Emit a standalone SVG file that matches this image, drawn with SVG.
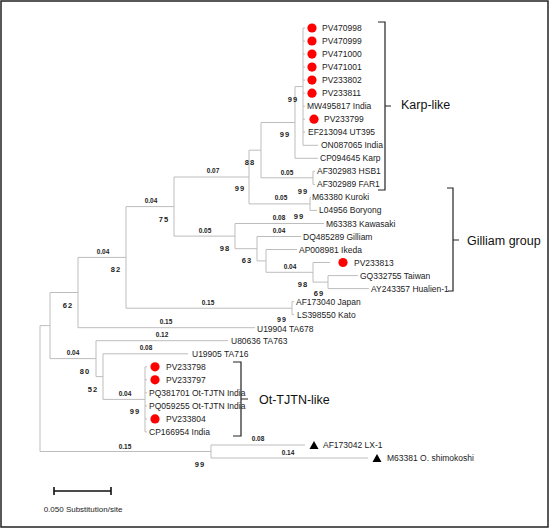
<svg xmlns="http://www.w3.org/2000/svg" width="550" height="529" viewBox="0 0 550 529">
<style>
.br{stroke:#bdbdbd;stroke-width:1;fill:none}
.bk{stroke:#222;stroke-width:1.2;fill:none}
text{font-family:"Liberation Sans",Arial,sans-serif;dominant-baseline:central}
.lf{font-size:8.5px;fill:#222}
.bl{font-size:6.5px;font-weight:bold;fill:#222;text-anchor:middle}
.bs{font-size:7.5px;font-weight:bold;fill:#222;text-anchor:middle;letter-spacing:1px}
.grp{font-size:12.5px;fill:#111}
.dot{fill:#ff0000}
.tri{fill:#000}
</style>
<rect x="1" y="1" width="547" height="526" fill="#fff" stroke="#222" stroke-width="1.5"/>
<g id="connectors" class="br">
<path d="M40,325.6V451.5M40,325.6H50M40,451.5H211M211,445V458M211,445H305M211,458H368"/>
<path d="M50,292.5V358.6M50,292.5H78M50,358.6H96M78,257.4V327.7M78,327.7H255M78,257.4H126"/>
<path d="M126,206.6V308.2M126,308.2H292M292,301.6V314.7M292,301.6H294M292,314.7H294M126,206.6H174"/>
<path d="M174,177V236.1M174,177H249M174,236.1H235M249,150.2V203.9M249,150.2H261M249,203.9H310M310,197.4V210.4M310,197.4H311M310,210.4H317"/>
<path d="M261,122.5V177.8M261,122.5H295M261,177.8H313M313,171.3V184.4M313,171.3H315M313,184.4H315"/>
<path d="M295,86.6V158.3M295,86.6H303M295,158.3H318M303,28V145.3M303,145.3H318"/>
<path d="M303,28H305M303,41H305M303,54.1H305M303,67.1H305M303,80.1H305M303,93.2H305M303,106.2H305M303,119.2H305M303,132.2H305"/>
<path d="M235,223.5V248.7M235,223.5H324M235,248.7H257M257,236.5V260.9M257,236.5H301M257,260.9H266M266,249.5V272.3M266,249.5H297M266,272.3H313"/>
<path d="M313,262.5V282.1M313,262.5H330M313,282.1H328M328,275.6V288.6M328,275.6H358M328,288.6H369"/>
<path d="M96,340.7V376.6M96,340.7H228M96,376.6H103M103,353.8V399.4M103,353.8H188M103,399.4H145M145,366.8V431.9"/>
<path d="M145,366.8H147M145,379.8H147M145,392.8H147M145,405.9H147M145,418.9H147M145,431.9H147"/>
</g>
<g id="brackets" class="bk">
<path d="M378,22H385V190H378M385,106H391"/>
<path d="M447,188H453V291H448M453,240H459"/>
<path d="M233,362H241V436H233M241,399H248"/>
</g>
<g id="group-labels">
<text class="grp" x="401" y="105">Karp-like</text>
<text class="grp" x="467" y="241">Gilliam group</text>
<text class="grp" x="259" y="400">Ot-TJTN-like</text>
</g>
<g id="leaves">
<g id="PV470998"><circle class="dot" cx="312" cy="28" r="4.6"/><text class="lf" x="322" y="28">PV470998</text></g>
<g id="PV470999"><circle class="dot" cx="312" cy="41" r="4.6"/><text class="lf" x="322" y="41">PV470999</text></g>
<g id="PV471000"><circle class="dot" cx="312" cy="54.1" r="4.6"/><text class="lf" x="322" y="54.1">PV471000</text></g>
<g id="PV471001"><circle class="dot" cx="312" cy="67.1" r="4.6"/><text class="lf" x="322" y="67.1">PV471001</text></g>
<g id="PV233802"><circle class="dot" cx="312" cy="80.1" r="4.6"/><text class="lf" x="322" y="80.1">PV233802</text></g>
<g id="PV233811"><circle class="dot" cx="312" cy="93.2" r="4.6"/><text class="lf" x="322" y="93.2">PV233811</text></g>
<g id="MW495817"><text class="lf" x="307" y="106.2">MW495817 India</text></g>
<g id="PV233799"><circle class="dot" cx="314" cy="119.2" r="4.6"/><text class="lf" x="324" y="119.2">PV233799</text></g>
<g id="EF213094"><text class="lf" x="308" y="132.2">EF213094 UT395</text></g>
<g id="ON087065"><text class="lf" x="321" y="145.3">ON087065 India</text></g>
<g id="CP094645"><text class="lf" x="320" y="158.3">CP094645 Karp</text></g>
<g id="AF302983"><text class="lf" x="317" y="171.3">AF302983 HSB1</text></g>
<g id="AF302989"><text class="lf" x="317" y="184.4">AF302989 FAR1</text></g>
<g id="M63380"><text class="lf" x="312" y="197.4">M63380 Kuroki</text></g>
<g id="L04956"><text class="lf" x="319" y="210.4">L04956 Boryong</text></g>
<g id="M63383"><text class="lf" x="326" y="223.5">M63383 Kawasaki</text></g>
<g id="DQ485289"><text class="lf" x="303" y="236.5">DQ485289 Gilliam</text></g>
<g id="AP008981"><text class="lf" x="299" y="249.5">AP008981 Ikeda</text></g>
<g id="PV233813"><circle class="dot" cx="343" cy="262.5" r="4.6"/><text class="lf" x="354" y="262.5">PV233813</text></g>
<g id="GQ332755"><text class="lf" x="360" y="275.6">GQ332755 Taiwan</text></g>
<g id="AY243357"><text class="lf" x="371" y="288.6">AY243357 Hualien-1</text></g>
<g id="AF173040"><text class="lf" x="296" y="301.6">AF173040 Japan</text></g>
<g id="LS398550"><text class="lf" x="297" y="314.7">LS398550 Kato</text></g>
<g id="U19904"><text class="lf" x="257" y="328.5">U19904 TA678</text></g>
<g id="U80636"><text class="lf" x="231" y="340.7">U80636 TA763</text></g>
<g id="U19905"><text class="lf" x="192" y="353.8">U19905 TA716</text></g>
<g id="PV233798"><circle class="dot" cx="155" cy="366.8" r="4.6"/><text class="lf" x="166" y="366.8">PV233798</text></g>
<g id="PV233797"><circle class="dot" cx="155" cy="379.8" r="4.6"/><text class="lf" x="166" y="379.8">PV233797</text></g>
<g id="PQ381701"><text class="lf" x="149" y="392.8">PQ381701 Ot-TJTN India</text></g>
<g id="PQ059255"><text class="lf" x="149" y="405.9">PQ059255 Ot-TJTN India</text></g>
<g id="PV233804"><circle class="dot" cx="155" cy="418.9" r="4.6"/><text class="lf" x="166" y="418.9">PV233804</text></g>
<g id="CP166954"><text class="lf" x="149" y="431.9">CP166954 India</text></g>
<g id="AF173042"><polygon class="tri" points="309.5,449 318.5,449 314,441"/><text class="lf" x="323" y="445">AF173042 LX-1</text></g>
<g id="M63381"><polygon class="tri" points="372.5,462 381.5,462 377,454"/><text class="lf" x="387" y="458">M63381 O. shimokoshi</text></g>
</g>
<g id="branch-lengths">
<text class="bl" x="213" y="170">0.07</text>
<text class="bl" x="287" y="172">0.05</text>
<text class="bl" x="281" y="197">0.05</text>
<text class="bl" x="279" y="217">0.08</text>
<text class="bl" x="279" y="230">0.04</text>
<text class="bl" x="205" y="230">0.05</text>
<text class="bl" x="151" y="200">0.04</text>
<text class="bl" x="103" y="251">0.04</text>
<text class="bl" x="208" y="302">0.15</text>
<text class="bl" x="166" y="321">0.15</text>
<text class="bl" x="162" y="334">0.12</text>
<text class="bl" x="73" y="352">0.04</text>
<text class="bl" x="146" y="347">0.08</text>
<text class="bl" x="125" y="393">0.04</text>
<text class="bl" x="125" y="446">0.15</text>
<text class="bl" x="258" y="438.5">0.08</text>
<text class="bl" x="288" y="452">0.14</text>
<text class="bl" x="290" y="266">0.04</text>
</g>
<g id="bootstrap">
<text class="bs" x="293" y="99">99</text>
<text class="bs" x="285" y="134">99</text>
<text class="bs" x="250" y="162">88</text>
<text class="bs" x="240" y="188">99</text>
<text class="bs" x="303" y="191">99</text>
<text class="bs" x="299" y="216">99</text>
<text class="bs" x="164" y="219">75</text>
<text class="bs" x="225" y="248">98</text>
<text class="bs" x="247" y="260">63</text>
<text class="bs" x="303" y="284">98</text>
<text class="bs" x="319" y="293">69</text>
<text class="bs" x="116" y="269">82</text>
<text class="bs" x="68" y="305">62</text>
<text class="bs" x="282" y="319.5" style="font-size:7px">99</text>
<text class="bs" x="85" y="371">80</text>
<text class="bs" x="93" y="389">52</text>
<text class="bs" x="135" y="411">99</text>
<text class="bs" x="200" y="464">99</text>
</g>
<g id="scale-bar">
<path d="M54,491H111M54,487V495M111,487V495" stroke="#111" stroke-width="1.6" fill="none"/>
<text class="lf" x="83" y="509" text-anchor="middle" style="font-size:8px">0.050 Substitution/site</text>
</g>
</svg>
